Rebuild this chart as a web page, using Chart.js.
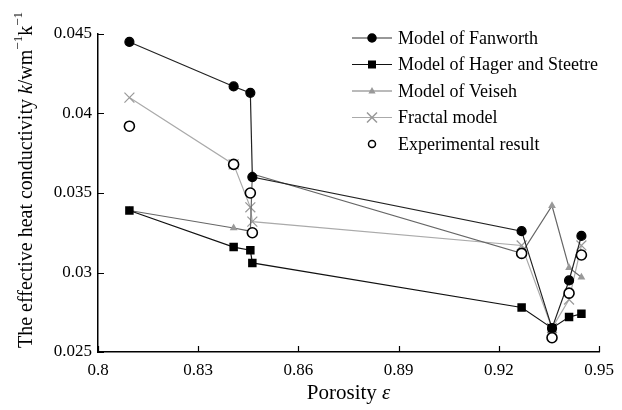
<!DOCTYPE html>
<html>
<head>
<meta charset="utf-8">
<script src="https://cdn.jsdelivr.net/npm/chart.js@4.4.1/dist/chart.umd.min.js"></script>
<style>
  html, body { margin: 0; padding: 0; background: #fff; }
  #wrap { width: 622px; height: 410px; }
</style>
</head>
<body>
<div id="wrap"><canvas id="lineChart"></canvas></div>
<script>
// porosity of the samples
var porosity = [0.8094, 0.8406, 0.8456, 0.8462, 0.9268, 0.9359, 0.9410, 0.9447];
var fanworth = [0.0445, 0.0417, 0.0413, 0.0360, 0.0326, 0.0265, 0.0295, 0.0323];
var hager = [0.0339, 0.0316, 0.0314, 0.0306, 0.0278, 0.0265, 0.0272, 0.0274];
var veiseh = [0.0339, 0.0328, 0.0326, 0.0362, 0.0312, 0.0342, 0.0303, 0.0297];
var fractal = [0.0410, 0.0368, 0.0341, 0.0332, 0.0317, 0.0265, 0.0283, 0.0317];
var experimental = [0.0392, 0.0368, 0.0350, 0.0325, 0.0312, 0.0259, 0.0287, 0.0311];
var seriesNames = ['Model of Fanworth', 'Model of Hager and Steetre', 'Model of Veiseh', 'Fractal model', 'Experimental result'];
var xTicks = [0.8, 0.83, 0.86, 0.89, 0.92, 0.95];
var yTicks = [0.025, 0.03, 0.035, 0.04, 0.045];
var xTickLabels = ['0.8', '0.83', '0.86', '0.89', '0.92', '0.95'];
var yTickLabels = ['0.025', '0.03', '0.035', '0.04', '0.045'];

var SERIF = '"Liberation Serif", "Times New Roman", serif';

function pts(vals) {
    return porosity.map(function(p, i) { return { x: p, y: vals[i] }; });
}

function marker(ctx, style, x, y, fill, stroke, r) {
    ctx.save();
    ctx.fillStyle = fill;
    ctx.strokeStyle = stroke;
    ctx.lineWidth = 1.5;
    ctx.beginPath();
    if (style === 'circle') {
        ctx.arc(x, y, r, 0, Math.PI * 2);
        ctx.fill();
        ctx.stroke();
    } else if (style === 'rect') {
        ctx.rect(x - r, y - r, 2 * r, 2 * r);
        ctx.fill();
    } else if (style === 'triangle') {
        ctx.moveTo(x, y - r);
        ctx.lineTo(x + r * 0.9, y + r * 0.6);
        ctx.lineTo(x - r * 0.9, y + r * 0.6);
        ctx.closePath();
        ctx.fill();
    } else if (style === 'cross') {
        ctx.moveTo(x - r, y - r); ctx.lineTo(x + r, y + r);
        ctx.moveTo(x + r, y - r); ctx.lineTo(x - r, y + r);
        ctx.stroke();
    }
    ctx.restore();
}

var legendRows = [
    { line: '#333', style: 'circle', fill: '#000', stroke: '#000', r: 4 },
    { line: '#111', style: 'rect', fill: '#000', stroke: '#000', r: 4 },
    { line: '#777', style: 'triangle', fill: '#999', stroke: '#999', r: 4 },
    { line: '#aaa', style: 'cross', fill: '#aaa', stroke: '#999', r: 5 },
    { line: null, style: 'circle', fill: '#fff', stroke: '#000', r: 3.5 }
];

var decor = {
    id: 'decor',
    afterDraw: function(chart) {
        var ctx = chart.ctx;
        var xs = chart.scales.x, ys = chart.scales.y;
        var a = chart.chartArea;
        ctx.save();
        // inward ticks
        ctx.strokeStyle = '#000';
        ctx.lineWidth = 1.2;
        ctx.beginPath();
        xTicks.forEach(function(v) {
            var px = Math.round(xs.getPixelForValue(v)) + 0.5;
            ctx.moveTo(px, a.bottom); ctx.lineTo(px, a.bottom - 6);
        });
        yTicks.forEach(function(v) {
            var py = Math.round(ys.getPixelForValue(v)) + 0.5;
            ctx.moveTo(a.left, py); ctx.lineTo(a.left + 6, py);
        });
        ctx.stroke();

        // x title
        ctx.fillStyle = '#000';
        ctx.textBaseline = 'middle';
        var t1 = 'Porosity ';
        ctx.font = '21px ' + SERIF;
        var w1 = ctx.measureText(t1).width;
        ctx.font = 'italic 21px ' + SERIF;
        var w2 = ctx.measureText('\u03b5').width;
        var sx = (a.left + a.right) / 2 - (w1 + w2) / 2;
        ctx.textAlign = 'left';
        ctx.font = '21px ' + SERIF;
        ctx.fillText(t1, sx, 393);
        ctx.font = 'italic 21px ' + SERIF;
        ctx.fillText('\u03b5', sx + w1, 393);

        // y title, rotated, mixed styles
        var parts = [
            { t: 'The effective heat conductivity ', f: '20px ', dy: 0 },
            { t: 'k', f: 'italic 20px ', dy: 0 },
            { t: '/wm', f: '20px ', dy: 0 },
            { t: '\u22121', f: '13px ', dy: -8 },
            { t: 'k', f: '20px ', dy: 0 },
            { t: '\u22121', f: '13px ', dy: -8 }
        ];
        var total = 0;
        parts.forEach(function(p) { ctx.font = p.f + SERIF; p.w = ctx.measureText(p.t).width; total += p.w; });
        ctx.translate(27, 180);
        ctx.rotate(-Math.PI / 2);
        var cx = -total / 2;
        parts.forEach(function(p) {
            ctx.font = p.f + SERIF;
            ctx.fillText(p.t, cx, p.dy);
            cx += p.w;
        });
        ctx.restore();

        // legend
        ctx.save();
        var rowY = [38, 64.5, 91, 117.5, 144];
        legendRows.forEach(function(r, i) {
            var y = rowY[i];
            if (r.line) {
                ctx.strokeStyle = r.line;
                ctx.lineWidth = 1.2;
                ctx.beginPath();
                ctx.moveTo(352, y); ctx.lineTo(392, y);
                ctx.stroke();
            }
            marker(ctx, r.style, 372, y, r.fill, r.stroke, r.r);
            ctx.fillStyle = '#000';
            ctx.font = '18px ' + SERIF;
            ctx.textAlign = 'left';
            ctx.textBaseline = 'middle';
            ctx.fillText(seriesNames[i], 398, y + 1);
        });
        ctx.restore();
    }
};

var ctx = document.getElementById('lineChart').getContext('2d');
var myChart = new Chart(ctx, {
    type: 'line',
    data: {
        datasets: [{
            label: seriesNames[4],
            data: pts(experimental),
            showLine: false,
            pointStyle: 'circle',
            pointRadius: 5,
            pointBackgroundColor: '#fff',
            pointBorderColor: '#000',
            pointBorderWidth: 1.6,
            order: 0
        }, {
            label: seriesNames[0],
            data: pts(fanworth),
            borderColor: '#222',
            borderWidth: 1.2,
            pointStyle: 'circle',
            pointRadius: 4.5,
            pointBackgroundColor: '#000',
            pointBorderColor: '#000',
            order: 1
        }, {
            label: seriesNames[1],
            data: pts(hager),
            borderColor: '#111',
            borderWidth: 1.2,
            pointStyle: 'rect',
            pointRadius: 6,
            pointBackgroundColor: '#000',
            pointBorderColor: '#000',
            pointBorderWidth: 0,
            order: 2
        }, {
            label: seriesNames[2],
            data: pts(veiseh),
            borderColor: '#666',
            borderWidth: 1.2,
            pointStyle: 'triangle',
            pointRadius: 4.5,
            pointBackgroundColor: '#999',
            pointBorderColor: '#999',
            pointBorderWidth: 0,
            order: 3
        }, {
            label: seriesNames[3],
            data: pts(fractal),
            borderColor: '#aaa',
            borderWidth: 1.2,
            pointStyle: 'crossRot',
            pointRadius: 7,
            pointBorderColor: '#999',
            pointBorderWidth: 1.2,
            order: 4
        }]
    },
    options: {
        animation: false,
        responsive: true,
        maintainAspectRatio: false,
        layout: { padding: { left: 0, right: 15, top: 34, bottom: 0 } },
        plugins: {
            legend: { display: false },
            tooltip: { enabled: false }
        },
        scales: {
            x: {
                type: 'linear',
                min: 0.8,
                max: 0.95,
                grid: { display: false, drawTicks: false },
                border: { display: true, color: '#000', width: 1.5 },
                afterBuildTicks: function(s) { s.ticks = xTicks.map(function(v) { return { value: v }; }); },
                afterFit: function(s) { s.height = 58; },
                ticks: {
                    color: '#000',
                    padding: 8,
                    maxRotation: 0,
                    font: { family: SERIF, size: 17 },
                    callback: function(v) { return xTickLabels[xTicks.indexOf(v)]; }
                }
            },
            y: {
                min: 0.025,
                max: 0.045,
                grid: { display: false, drawTicks: false },
                border: { display: true, color: '#000', width: 1.5 },
                afterBuildTicks: function(s) { s.ticks = yTicks.map(function(v) { return { value: v }; }); },
                afterFit: function(s) { s.width = 98; },
                ticks: {
                    color: '#000',
                    padding: 6,
                    font: { family: SERIF, size: 17 },
                    callback: function(v) { return yTickLabels[yTicks.indexOf(v)]; }
                }
            }
        }
    },
    plugins: [decor]
});
</script>
</body>
</html>
